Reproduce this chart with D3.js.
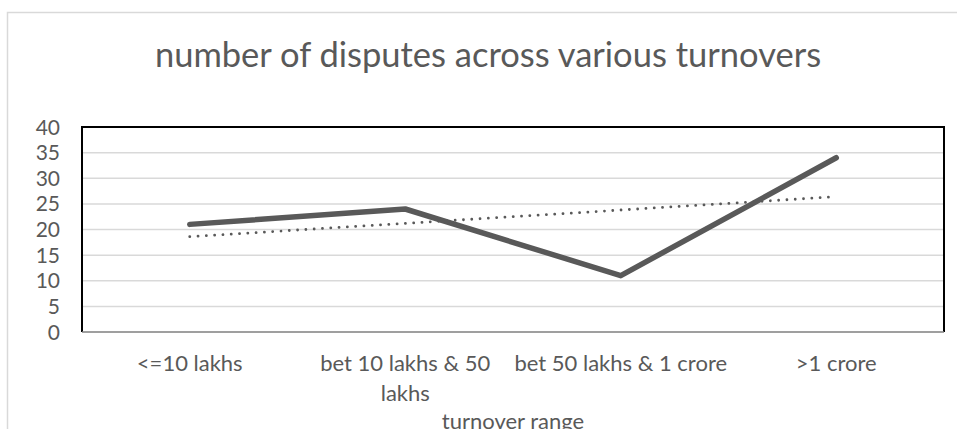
<!DOCTYPE html>
<html>
<head>
<meta charset="utf-8">
<script src="https://cdn.jsdelivr.net/npm/d3@7"></script>
<style>
  body { margin: 0; background: #fff; }
  text { font-family: Lato, "Open Sans", sans-serif; fill: #595959; }
</style>
</head>
<body>
<script>
// chart data
var categories = ["<=10 lakhs", "bet 10 lakhs & 50 lakhs", "bet 50 lakhs & 1 crore", ">1 crore"];
var disputes = [21, 24, 11, 34];
var trend = [18.6, 21.2, 23.8, 26.4]; // linear trendline as drawn
var yTicks = [0, 5, 10, 15, 20, 25, 30, 35, 40];

var W = 957, H = 429;
var plot = { left: 82, right: 944, top: 127, bottom: 332 };

var svg = d3.select("body").append("svg").attr("width", W).attr("height", H);

// outer chart border (cropped on right / bottom)
svg.append("path")
  .attr("d", "M7.5," + H + " V12.5 H" + W)
  .attr("fill", "none")
  .attr("stroke", "#d9d9d9")
  .attr("stroke-width", 1.5);

var x = d3.scaleBand().domain(categories).range([plot.left, plot.right]);
var y = d3.scaleLinear().domain([0, 40]).range([plot.bottom, plot.top]);

// gridlines
svg.append("g")
  .selectAll("line")
  .data(yTicks.filter(function (d) { return d > 0 && d < 40; }))
  .enter().append("line")
  .attr("x1", plot.left).attr("x2", plot.right)
  .attr("y1", function (d) { return y(d); })
  .attr("y2", function (d) { return y(d); })
  .attr("stroke", "#d9d9d9")
  .attr("stroke-width", 1.5);

// y tick labels
svg.append("g")
  .selectAll("text")
  .data(yTicks)
  .enter().append("text")
  .attr("x", 60)
  .attr("y", function (d) { return y(d); })
  .attr("dy", "0.36em")
  .attr("text-anchor", "end")
  .style("font-size", "21px")
  .text(function (d) { return d; });

// plot frame
svg.append("path")
  .attr("d", "M" + plot.left + "," + plot.bottom + " V" + plot.top + " H" + plot.right + " V" + plot.bottom)
  .attr("fill", "none")
  .attr("stroke", "#000")
  .attr("stroke-width", 2);
svg.append("line")
  .attr("x1", plot.left).attr("x2", plot.right)
  .attr("y1", plot.bottom).attr("y2", plot.bottom)
  .attr("stroke", "#7f7f7f")
  .attr("stroke-width", 1.5);

// x labels, wrapping to fit band width
var xl = svg.append("g")
  .selectAll("text")
  .data(categories)
  .enter().append("text")
  .attr("x", function (d) { return x(d) + x.bandwidth() / 2; })
  .attr("y", 371)
  .attr("text-anchor", "middle")
  .style("font-size", "22px");

xl.each(function (d) {
  var t = d3.select(this);
  var words = d.split(" ");
  var line = [];
  var tspan = t.append("tspan").attr("x", t.attr("x")).attr("dy", 0);
  words.forEach(function (w) {
    line.push(w);
    tspan.text(line.join(" "));
    if (tspan.node().getComputedTextLength() > x.bandwidth() && line.length > 1) {
      line.pop();
      tspan.text(line.join(" "));
      line = [w];
      tspan = t.append("tspan").attr("x", t.attr("x")).attr("dy", 30).text(w);
    }
  });
});

// trendline (dotted)
var cx = function (d, i) { return x(categories[i]) + x.bandwidth() / 2; };
svg.append("path")
  .datum(trend)
  .attr("fill", "none")
  .attr("stroke", "#595959")
  .attr("stroke-width", 2.8)
  .attr("stroke-linecap", "round")
  .attr("stroke-dasharray", "0.01 8.3")
  .attr("d", d3.line().x(cx).y(function (d) { return y(d); }));

// main series
svg.append("path")
  .datum(disputes)
  .attr("fill", "none")
  .attr("stroke", "#595959")
  .attr("stroke-width", 5.5)
  .attr("stroke-linecap", "round")
  .attr("stroke-linejoin", "round")
  .attr("d", d3.line().x(cx).y(function (d) { return y(d); }));

// title
svg.append("text")
  .attr("x", 488)
  .attr("y", 67)
  .attr("text-anchor", "middle")
  .style("font-size", "34.5px")
  .text("number of disputes across various turnovers");

// x axis title (cut at the bottom edge, as in the source image)
svg.append("text")
  .attr("x", (plot.left + plot.right) / 2)
  .attr("y", 429)
  .attr("text-anchor", "middle")
  .style("font-size", "22px")
  .text("turnover range");
</script>
</body>
</html>
